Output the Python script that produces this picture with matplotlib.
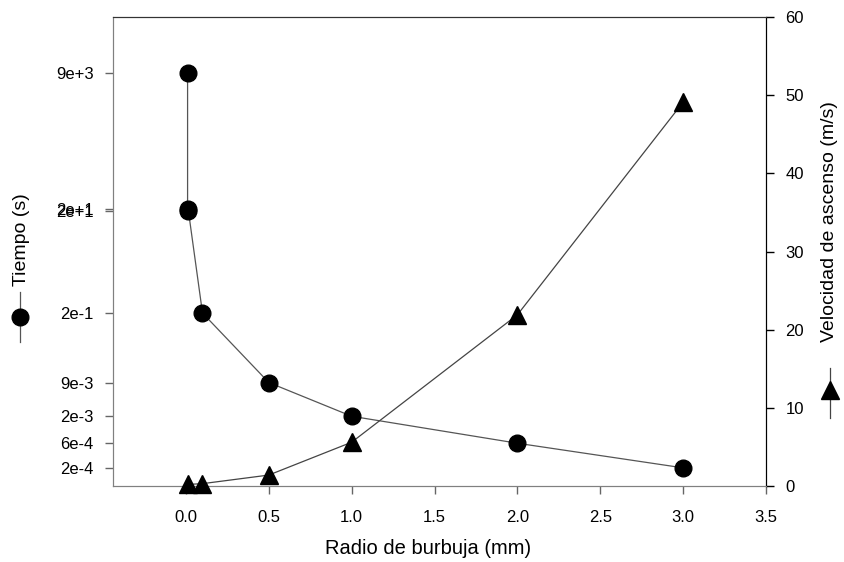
import matplotlib
matplotlib.use("Agg")
import matplotlib.pyplot as plt
from matplotlib.lines import Line2D

plt.rcParams["font.family"] = ["Liberation Sans", "DejaVu Sans"]

# ── Data ──────────────────────────────────────────────────────────────────────
radio_t = [0.01, 0.01, 0.015, 0.1, 0.5, 1.0, 2.0, 3.0]
tiempo = [9e3, 21, 19, 0.2, 9e-3, 2e-3, 6e-4, 2e-4]
tiempo_labels = ["9e+3", "2e+1", "2e+1", "2e-1", "9e-3", "2e-3", "6e-4", "2e-4"]

radio_v = [0.01, 0.1, 0.5, 1.0, 2.0, 3.0]
velocidad = [0.2, 0.3, 1.4, 5.6, 21.9, 49.1]

x_ticks = [0.0, 0.5, 1.0, 1.5, 2.0, 2.5, 3.0, 3.5]
v_ticks = [0, 10, 20, 30, 40, 50, 60]

# ── Figure ────────────────────────────────────────────────────────────────────
fig = plt.figure(figsize=(8.44, 5.62), dpi=100)
ax = fig.add_axes([113 / 844, 1 - 486 / 562, 653 / 844, 469 / 562])
ax2 = ax.twinx()

fs_tick = 12
fs_label = 14

ax.plot(radio_t, tiempo, color="#555555", linewidth=0.9, marker="o",
        markersize=12, markerfacecolor="black", markeredgecolor="black", zorder=3)
ax.set_yscale("log")
ax.set_ylim(8.9e-5, 1.09e5)
ax.set_xlim(-0.44, 3.5)
ax.set_yticks(tiempo)
ax.set_yticklabels(tiempo_labels, fontsize=fs_tick)
ax.yaxis.set_minor_locator(matplotlib.ticker.NullLocator())
ax.set_xticks(x_ticks)
ax.set_xticklabels([f"{t:.1f}" for t in x_ticks], fontsize=fs_tick)
ax.tick_params(axis="y", direction="out", length=6, width=1, color="#666666", pad=8)
ax.tick_params(axis="x", direction="out", length=6, width=1, color="#666666", pad=11)
ax.set_xlabel("Radio de burbuja (mm)", fontsize=14.5)
ax.xaxis.set_label_coords(0.482, -0.112)

ax2.plot(radio_v, velocidad, color="#444444", linewidth=0.9, marker="^",
         markersize=12.5, markerfacecolor="black", markeredgecolor="black",
         zorder=3, clip_on=False)
ax2.set_ylim(0, 60)
ax2.set_yticks(v_ticks)
ax2.set_yticklabels([str(v) for v in v_ticks], fontsize=fs_tick)
ax2.tick_params(axis="y", direction="out", length=6, width=1, color="black", pad=8)

for a in (ax, ax2):
    a.spines["left"].set_color("#808080")
    a.spines["bottom"].set_color("#808080")
    a.spines["top"].set_color("#333333")
    a.spines["right"].set_color("black")

# axis titles with their legend keys
fig.text(22 / 844, 1 - 240 / 562, "Tiempo (s)", rotation=90, fontsize=fs_label,
         ha="center", va="center")
fig.add_artist(Line2D([20 / 844, 20 / 844], [1 - 292 / 562, 1 - 342 / 562],
                      transform=fig.transFigure, color="#555555", linewidth=0.9))
fig.add_artist(Line2D([20 / 844], [1 - 317 / 562], transform=fig.transFigure,
                      marker="o", markersize=12, color="black"))

fig.text(830 / 844, 1 - 222 / 562, "Velocidad de ascenso (m/s)", rotation=90,
         fontsize=fs_label, ha="center", va="center")
fig.add_artist(Line2D([830 / 844, 830 / 844], [1 - 368 / 562, 1 - 418 / 562],
                      transform=fig.transFigure, color="#444444", linewidth=0.9))
fig.add_artist(Line2D([830 / 844], [1 - 390 / 562], transform=fig.transFigure,
                      marker="^", markersize=12.5, color="black"))

fig.savefig("out.png", dpi=100)
